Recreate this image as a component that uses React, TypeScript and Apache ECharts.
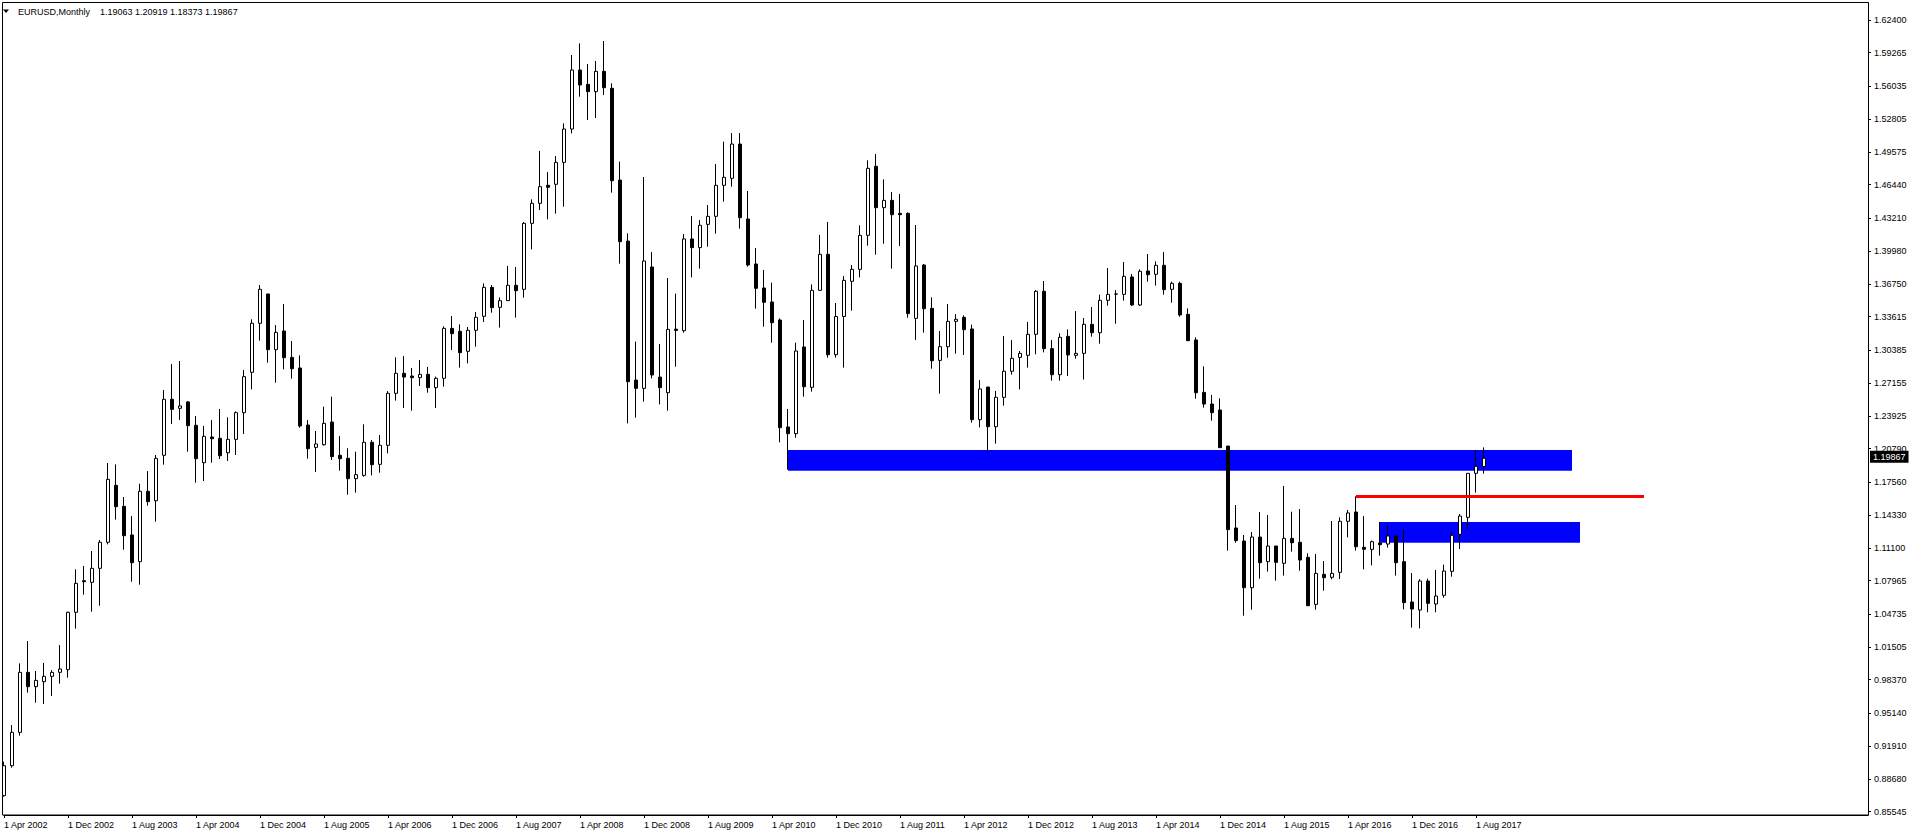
import React, { useEffect, useRef } from 'react';
import * as echarts from 'echarts';

// ---- data (EURUSD monthly, Apr 2002 .. Sep 2017) ----
const MONTH_NAMES = ['Jan', 'Feb', 'Mar', 'Apr', 'May', 'Jun', 'Jul', 'Aug', 'Sep', 'Oct', 'Nov', 'Dec'];
const FIRST_YEAR = 2002;
const FIRST_MONTH = 3; // April
const FUTURE_SLOTS = 48;

const opens = [
  0.8709, 0.9000, 0.9324, 0.9907, 0.9768, 0.9816, 0.9868, 0.9907, 0.9933, 1.0490,
  1.0797, 1.0781, 1.0917, 1.1170, 1.1723, 1.1519, 1.1241, 1.0982, 1.1665, 1.1574,
  1.2015, 1.2559, 1.2471, 1.2533, 1.2306, 1.1943, 1.2193, 1.2180, 1.2040, 1.2170,
  1.2429, 1.2821, 1.3297, 1.3582, 1.3041, 1.3222, 1.2966, 1.2863, 1.2309, 1.2092,
  1.2118, 1.2338, 1.2015, 1.1986, 1.1788, 1.1820, 1.2141, 1.1927, 1.2112, 1.2617,
  1.2811, 1.2785, 1.2769, 1.2801, 1.2672, 1.2763, 1.3248, 1.3219, 1.3025, 1.3229,
  1.3365, 1.3646, 1.3452, 1.3517, 1.3666, 1.3627, 1.4268, 1.4462, 1.4637, 1.4647,
  1.4860, 1.5184, 1.5757, 1.5618, 1.5547, 1.5744, 1.5579, 1.4688, 1.4096, 1.2746,
  1.2665, 1.3844, 1.2775, 1.2623, 1.3240, 1.3225, 1.4116, 1.4032, 1.4258, 1.4336,
  1.4637, 1.4705, 1.5038, 1.4310, 1.3873, 1.3640, 1.3504, 1.3329, 1.2290, 1.2225,
  1.3067, 1.2675, 1.3617, 1.3967, 1.2992, 1.3363, 1.3705, 1.3821, 1.4151, 1.4822,
  1.4420, 1.4491, 1.4365, 1.4365, 1.3345, 1.3863, 1.3442, 1.2937, 1.3070, 1.3316,
  1.3355, 1.3242, 1.2361, 1.2678, 1.2293, 1.2578, 1.2831, 1.2966, 1.2986, 1.3190,
  1.3608, 1.3051, 1.2798, 1.3170, 1.2986, 1.3005, 1.3287, 1.3206, 1.3520, 1.3580,
  1.3578, 1.3747, 1.3475, 1.3805, 1.3773, 1.3860, 1.3627, 1.3685, 1.3384, 1.3135,
  1.2626, 1.2513, 1.2455, 1.2105, 1.1309, 1.1182, 1.0729, 1.1221, 1.0982, 1.1134,
  1.0966, 1.1208, 1.1170, 1.1024, 1.0567, 1.0859, 1.0830, 1.0878, 1.1374, 1.1464,
  1.1121, 1.1101, 1.1163, 1.1153, 1.1231, 1.0982, 1.0590, 1.0512, 1.0794, 1.0571,
  1.0655, 1.0888, 1.1247, 1.1412, 1.1840, 1.19063,
];
const highs = [
  0.9039, 0.9395, 0.9994, 1.0211, 0.9920, 0.9998, 0.9929, 1.0172, 1.0496, 1.0907,
  1.0940, 1.1085, 1.1192, 1.1940, 1.1927, 1.1610, 1.1425, 1.1739, 1.1862, 1.2018,
  1.2649, 1.2902, 1.2931, 1.2542, 1.2397, 1.2300, 1.2358, 1.2465, 1.2384, 1.2442,
  1.2843, 1.3336, 1.3669, 1.3582, 1.3280, 1.3485, 1.3125, 1.2986, 1.2358, 1.2251,
  1.2487, 1.2584, 1.2202, 1.2083, 1.2050, 1.2316, 1.2163, 1.2212, 1.2639, 1.2966,
  1.2979, 1.2863, 1.2941, 1.2873, 1.2779, 1.3268, 1.3368, 1.3287, 1.3261, 1.3407,
  1.3685, 1.3669, 1.3549, 1.3854, 1.3844, 1.4281, 1.4501, 1.4971, 1.4767, 1.4922,
  1.5239, 1.5903, 1.6016, 1.5816, 1.5845, 1.6039, 1.5628, 1.4867, 1.4171, 1.3119,
  1.4718, 1.3989, 1.3096, 1.3737, 1.3585, 1.4164, 1.4339, 1.4300, 1.4446, 1.4844,
  1.5061, 1.5145, 1.5145, 1.4582, 1.4028, 1.3815, 1.3692, 1.3345, 1.2465, 1.3109,
  1.3329, 1.3675, 1.4155, 1.4281, 1.3494, 1.3756, 1.3863, 1.4249, 1.4880, 1.4941,
  1.4695, 1.4572, 1.4553, 1.4375, 1.4252, 1.3873, 1.3549, 1.3222, 1.3485, 1.3387,
  1.3374, 1.3284, 1.2746, 1.2680, 1.2640, 1.3174, 1.3135, 1.3028, 1.3310, 1.3620,
  1.3708, 1.3135, 1.3200, 1.3238, 1.3416, 1.3348, 1.3455, 1.3575, 1.3834, 1.3620,
  1.3892, 1.3775, 1.3821, 1.3970, 1.3899, 1.3990, 1.3701, 1.3701, 1.3442, 1.3161,
  1.2879, 1.2601, 1.2568, 1.2105, 1.1532, 1.1241, 1.1270, 1.1464, 1.1435, 1.1134,
  1.1717, 1.1467, 1.1493, 1.1063, 1.1056, 1.0988, 1.1377, 1.1412, 1.1484, 1.1616,
  1.1425, 1.1186, 1.1367, 1.1331, 1.1231, 1.1296, 1.0872, 1.0813, 1.0817, 1.0901,
  1.0953, 1.1270, 1.1445, 1.1840, 1.2066, 1.20919,
];
const lows = [
  0.8699, 0.8981, 0.9292, 0.9709, 0.9612, 0.9599, 0.9677, 0.9797, 0.9855, 1.0331,
  1.0661, 1.0496, 1.0554, 1.1150, 1.1390, 1.1098, 1.0787, 1.0758, 1.1526, 1.1370,
  1.1924, 1.2319, 1.2358, 1.2050, 1.1749, 1.1765, 1.1943, 1.1979, 1.1960, 1.2018,
  1.2222, 1.2656, 1.3128, 1.2915, 1.2720, 1.2850, 1.2759, 1.2283, 1.1982, 1.1853,
  1.2109, 1.1969, 1.1866, 1.1632, 1.1652, 1.1807, 1.1820, 1.1846, 1.2034, 1.2546,
  1.2474, 1.2448, 1.2688, 1.2623, 1.2474, 1.2682, 1.3038, 1.2866, 1.2908, 1.3070,
  1.3310, 1.3400, 1.3255, 1.3517, 1.3352, 1.3546, 1.4015, 1.4397, 1.4307, 1.4362,
  1.4430, 1.5142, 1.5498, 1.5272, 1.5291, 1.5514, 1.4566, 1.3876, 1.2325, 1.2380,
  1.2536, 1.2762, 1.2510, 1.2448, 1.2876, 1.3206, 1.3743, 1.3828, 1.4041, 1.4168,
  1.4478, 1.4624, 1.4216, 1.3847, 1.3439, 1.3264, 1.3109, 1.2141, 1.1875, 1.2186,
  1.2584, 1.2633, 1.3617, 1.2963, 1.2963, 1.2866, 1.3420, 1.3743, 1.4051, 1.3964,
  1.4070, 1.3828, 1.4048, 1.3352, 1.3135, 1.3206, 1.2856, 1.2614, 1.2963, 1.3002,
  1.2989, 1.2332, 1.2286, 1.2040, 1.2128, 1.2497, 1.2798, 1.2656, 1.2866, 1.2996,
  1.3015, 1.2740, 1.2740, 1.2785, 1.2953, 1.2750, 1.3167, 1.3099, 1.3468, 1.3293,
  1.3517, 1.3465, 1.3465, 1.3701, 1.3663, 1.3575, 1.3497, 1.3361, 1.3128, 1.2565,
  1.2478, 1.2351, 1.2089, 1.1089, 1.1166, 1.0457, 1.0515, 1.0817, 1.0885, 1.0797,
  1.0846, 1.1079, 1.0894, 1.0554, 1.0515, 1.0700, 1.0810, 1.0813, 1.1218, 1.1089,
  1.0907, 1.0946, 1.1040, 1.1118, 1.0846, 1.0519, 1.0341, 1.0334, 1.0490, 1.0490,
  1.0632, 1.0836, 1.1105, 1.1299, 1.1652, 1.18373,
];
const closes = [
  0.9000, 0.9324, 0.9907, 0.9768, 0.9829, 0.9868, 0.9907, 0.9939, 1.0490, 1.0771,
  1.0787, 1.0917, 1.1170, 1.1781, 1.1516, 1.1234, 1.0972, 1.1665, 1.1565, 1.1985,
  1.2559, 1.2461, 1.2494, 1.2303, 1.1982, 1.2199, 1.2176, 1.2011, 1.2170, 1.2429,
  1.2779, 1.3297, 1.3627, 1.3041, 1.3209, 1.2963, 1.2856, 1.2300, 1.2079, 1.2125,
  1.2325, 1.2002, 1.1982, 1.1788, 1.1827, 1.2141, 1.1924, 1.2112, 1.2617, 1.2811,
  1.2775, 1.2769, 1.2801, 1.2672, 1.2763, 1.3248, 1.3196, 1.3012, 1.3229, 1.3355,
  1.3646, 1.3449, 1.3517, 1.3666, 1.3614, 1.4268, 1.4462, 1.4624, 1.4618, 1.4860,
  1.5184, 1.5757, 1.5612, 1.5547, 1.5744, 1.5586, 1.4682, 1.4090, 1.2730, 1.2665,
  1.3902, 1.2795, 1.2672, 1.3238, 1.3228, 1.4116, 1.4032, 1.4249, 1.4336, 1.4637,
  1.4715, 1.5038, 1.4323, 1.3863, 1.3637, 1.3501, 1.3303, 1.2283, 1.2225, 1.3028,
  1.2681, 1.3617, 1.3967, 1.2992, 1.3363, 1.3714, 1.3821, 1.4151, 1.4802, 1.4420,
  1.4491, 1.4352, 1.4352, 1.3391, 1.3854, 1.3439, 1.2934, 1.3070, 1.3316, 1.3336,
  1.3235, 1.2361, 1.2659, 1.2293, 1.2578, 1.2831, 1.2957, 1.3005, 1.3190, 1.3608,
  1.3051, 1.2798, 1.3161, 1.2989, 1.3005, 1.3287, 1.3206, 1.3520, 1.3578, 1.3582,
  1.3753, 1.3475, 1.3802, 1.3769, 1.3860, 1.3624, 1.3685, 1.3378, 1.3128, 1.2623,
  1.2513, 1.2429, 1.2089, 1.1293, 1.1186, 1.0729, 1.1221, 1.0972, 1.1134, 1.0975,
  1.1208, 1.1166, 1.0998, 1.0554, 1.0868, 1.0826, 1.0868, 1.1374, 1.1455, 1.1127,
  1.1102, 1.1176, 1.1147, 1.1231, 1.0972, 1.0584, 1.0522, 1.0794, 1.0577, 1.0648,
  1.0891, 1.1238, 1.1425, 1.1840, 1.1908, 1.19867,
];

// right price scale labels (bottom to top)
const priceTickLabels = [
  '0.85545', '0.88680', '0.91910', '0.95140', '0.98370', '1.01505', '1.04735', '1.07965',
  '1.11100', '1.14330', '1.17560', '1.20790', '1.23925', '1.27155', '1.30385', '1.33615',
  '1.36750', '1.39980', '1.43210', '1.46440', '1.49575', '1.52805', '1.56035', '1.59265',
  '1.62400',
];
const priceMin = 0.85213;
const priceMax = 1.6408;

const titleSymbol = 'EURUSD,Monthly';
const titleOHLC = ['1.19063', '1.20919', '1.18373', '1.19867'];
const lastPrice = 1.19867;

// annotations: [startIndex, endIndex, topPrice, bottomPrice]
const upperZone = [98, 196, 1.20663, 1.18656];
const lowerZone = [172, 197, 1.1367, 1.1166];
// red level: [startIndex, endIndex, price]
const redLevel = [169, 205, 1.16163];

const LABEL_EVERY = 8;

function buildCategories(): string[] {
  const cats: string[] = [];
  for (let i = 0; i < opens.length; i++) {
    const m = FIRST_MONTH + i;
    const y = FIRST_YEAR + Math.floor(m / 12);
    cats.push('1 ' + MONTH_NAMES[m % 12] + ' ' + y);
  }
  for (let k = 0; k < FUTURE_SLOTS; k++) cats.push('~' + k);
  return cats;
}

export default function App() {
  const ref = useRef<HTMLDivElement>(null);
  useEffect(() => {
    if (!ref.current) return;
    const chart = echarts.init(ref.current, null, { renderer: 'svg' });
    const categories = buildCategories();
    const n = opens.length;
    const candleData = opens.map((o, i) => [o, closes[i], lows[i], highs[i]]);
    const font = 'Liberation Sans';
    const showIdx = (i: number) => i % LABEL_EVERY === 0 && i < n;
    const tickVals = priceTickLabels.map(Number);

    chart.setOption({
      animation: false,
      backgroundColor: '#ffffff',
      textStyle: { fontFamily: font, fontSize: 9, color: '#000' },
      grid: { left: 4, right: 44, top: 3, bottom: 21, containLabel: false },
      xAxis: {
        type: 'category',
        data: categories,
        boundaryGap: false,
        axisLine: { show: true, lineStyle: { color: '#000', width: 1 } },
        axisTick: { show: true, length: 3, interval: (i: number) => showIdx(i), lineStyle: { color: '#000' } },
        axisLabel: {
          show: true,
          interval: (i: number) => showIdx(i),
          align: 'left',
          margin: 5,
          fontSize: 9,
          fontFamily: font,
          color: '#000',
        },
        splitLine: { show: false },
      },
      yAxis: {
        type: 'value',
        position: 'right',
        min: priceMin,
        max: priceMax,
        axisLine: { show: true, onZero: false, lineStyle: { color: '#000', width: 1 } },
        axisTick: { show: true, length: 3, customValues: tickVals, lineStyle: { color: '#000' } },
        axisLabel: {
          show: true,
          customValues: tickVals,
          formatter: (v: number) => v.toFixed(5),
          margin: 6,
          fontSize: 9,
          fontFamily: font,
          color: '#000',
        },
        splitLine: { show: false },
      },
      series: [
        {
          type: 'candlestick',
          data: candleData,
          barWidth: 4,
          clip: false,
          silent: true,
          itemStyle: {
            color: '#ffffff',
            color0: '#000000',
            borderColor: '#000000',
            borderColor0: '#000000',
            borderColorDoji: '#000000',
            borderWidth: 1,
          },
          markArea: {
            silent: true,
            itemStyle: { color: '#0000ff', opacity: 1 },
            label: { show: false },
            data: [
              [{ xAxis: upperZone[0], yAxis: upperZone[2] }, { xAxis: upperZone[1], yAxis: upperZone[3] }],
              [{ xAxis: lowerZone[0], yAxis: lowerZone[2] }, { xAxis: lowerZone[1], yAxis: lowerZone[3] }],
            ],
          },
          markLine: {
            silent: true,
            symbol: ['none', 'none'],
            data: [
              [
                { xAxis: redLevel[0], yAxis: redLevel[2], lineStyle: { color: '#ff0000', width: 3, type: 'solid' }, label: { show: false } },
                { xAxis: redLevel[1], yAxis: redLevel[2] },
              ],
              {
                yAxis: lastPrice,
                lineStyle: { color: 'rgba(0,0,0,0)', width: 0 },
                label: {
                  show: true,
                  position: 'end',
                  distance: 2,
                  opacity: 1,
                  formatter: () => lastPrice.toFixed(5),
                  backgroundColor: '#000',
                  color: '#fff',
                  fontSize: 9,
                  fontFamily: font,
                  padding: [2, 3, 1, 3],
                },
              },
            ],
          },
        },
      ],
      graphic: [
        {
          type: 'rect',
          silent: true,
          z: 0,
          shape: { x: 2.5, y: 2.5, width: 1866, height: 812.5 },
          style: { fill: 'none', stroke: '#000', lineWidth: 1 },
        },
        {
          type: 'polygon',
          silent: true,
          shape: { points: [[3, 9.5], [9, 9.5], [6, 13]] },
          style: { fill: '#000' },
        },
        {
          type: 'text',
          silent: true,
          x: 18,
          y: 12,
          style: { text: titleSymbol, fill: '#000', fontSize: 9, fontFamily: font, verticalAlign: 'middle' },
        },
        {
          type: 'text',
          silent: true,
          x: 100,
          y: 12,
          style: { text: titleOHLC.join(' '), fill: '#000', fontSize: 9, fontFamily: font, verticalAlign: 'middle' },
        },
      ],
    });
    return () => chart.dispose();
  }, []);
  return (
    <div
      ref={ref}
      style={{ position: 'fixed', left: 0, top: 0, width: 1912, height: 836, background: '#fff' }}
    />
  );
}
